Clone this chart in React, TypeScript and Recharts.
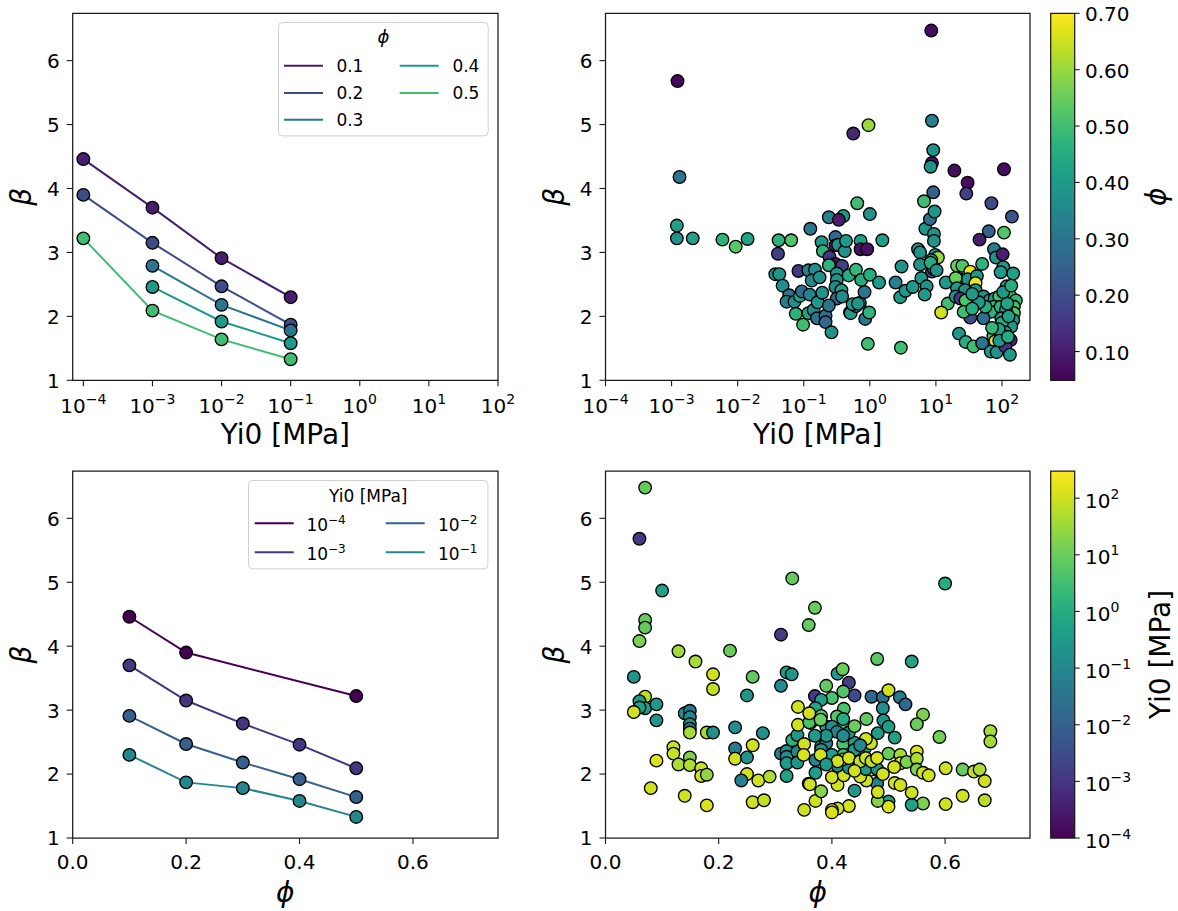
import React from 'react';
import { ComposedChart, Line, Scatter, XAxis, YAxis, ReferenceArea, Legend } from 'recharts';

const FONT = '"DejaVu Sans", "Liberation Sans", sans-serif';

// ---------------- data ----------------
const phiLevels = [0.1, 0.2, 0.3, 0.4, 0.5];
const yiLevels = [1e-4, 1e-3, 1e-2, 1e-1];
// beta[phi][Yi0]; null = not measured
const betaGrid: (number | null)[][] = [
  [4.46, 3.70, 2.91, 2.30],
  [3.90, 3.15, 2.47, 1.87],
  [null, 2.79, 2.18, 1.78],
  [null, 2.46, 1.92, 1.58],
  [3.22, 2.09, 1.64, 1.33],
];

const betaTicks = [1, 2, 3, 4, 5, 6];
const decadeTicksTL = [1e-4, 1e-3, 1e-2, 1e-1, 1e0, 1e1, 1e2];
const decadeTicksTR = [1e-4, 1e-3, 1e-2, 1e-1, 1e0, 1e1, 1e2];
const phiTicks = [0, 0.2, 0.4, 0.6];
const cbPhiTicks = [0.1, 0.2, 0.3, 0.4, 0.5, 0.6, 0.7];
const cbYiTicks = [1e-4, 1e-3, 1e-2, 1e-1, 1e0, 1e1, 1e2];

// top-right scatter: [log10 Yi0 (MPa), beta, phi]
const trRows: number[][] = [
  [-2.91, 5.68, 0.06], [-2.88, 4.18, 0.30], [-2.92, 3.42, 0.42], [-2.92, 3.22, 0.38],
  [-2.68, 3.22, 0.42], [-2.23, 3.20, 0.47], [-2.03, 3.09, 0.53], [-1.85, 3.21, 0.43],
  [-1.38, 3.19, 0.47], [-1.19, 3.19, 0.52], [-1.39, 2.98, 0.17], [-1.43, 2.66, 0.38],
  [-1.37, 2.66, 0.38], [-1.32, 2.48, 0.37], [-1.22, 2.33, 0.30], [-1.26, 2.23, 0.32],
  [-1.14, 2.23, 0.36], [-1.06, 2.32, 0.43], [-1.12, 2.04, 0.47], [-1.01, 1.87, 0.50],
  [-1.03, 2.39, 0.28], [-1.08, 2.71, 0.15], [-0.90, 3.37, 0.30], [-0.93, 2.05, 0.43],
  [-0.91, 2.34, 0.34], [-0.85, 2.10, 0.36], [-0.93, 2.72, 0.33], [-0.83, 2.73, 0.37],
  [-0.88, 2.56, 0.36], [-0.76, 2.61, 0.38], [-0.80, 1.97, 0.30], [-0.79, 2.22, 0.40],
  [-0.72, 2.37, 0.38], [-0.67, 2.01, 0.28], [-0.67, 1.91, 0.27], [-0.58, 1.75, 0.38],
  [-0.62, 3.55, 0.33], [-0.40, 3.57, 0.40], [-0.47, 3.51, 0.10], [-0.73, 3.16, 0.40],
  [-0.71, 3.02, 0.47], [-0.52, 3.24, 0.27], [-0.52, 3.11, 0.10], [-0.48, 3.12, 0.38],
  [-0.38, 3.02, 0.38], [-0.61, 2.93, 0.15], [-0.52, 2.82, 0.08], [-0.62, 2.80, 0.47],
  [-0.42, 2.79, 0.17], [-0.50, 2.67, 0.38], [-0.50, 2.57, 0.38], [-0.52, 2.46, 0.36],
  [-0.43, 2.41, 0.42], [-0.50, 2.28, 0.27], [-0.42, 2.31, 0.36], [-0.62, 2.17, 0.30],
  [-0.32, 2.64, 0.45], [-0.30, 2.06, 0.45], [-0.36, 3.18, 0.40], [-0.29, 2.05, 0.40],
  [-0.21, 2.16, 0.38], [-0.21, 2.73, 0.48], [-0.19, 3.77, 0.50], [-0.14, 3.18, 0.42],
  [-0.14, 3.05, 0.08], [-0.04, 3.05, 0.08], [-0.13, 2.57, 0.45], [-0.15, 2.21, 0.40],
  [-0.08, 2.38, 0.30], [-0.07, 1.96, 0.30], [-0.01, 2.06, 0.47], [0.00, 2.65, 0.45],
  [-0.02, 4.99, 0.60], [-0.25, 4.86, 0.12], [0.00, 3.60, 0.38], [-0.03, 1.57, 0.50],
  [0.19, 3.19, 0.42], [0.14, 2.53, 0.40], [-0.26, 2.19, 0.40], [-0.18, 2.20, 0.38],
  [0.39, 2.53, 0.33], [0.48, 2.78, 0.38], [0.46, 2.30, 0.40], [0.54, 2.40, 0.40],
  [0.47, 1.51, 0.50], [0.65, 2.46, 0.40], [0.73, 3.05, 0.38], [0.76, 3.00, 0.38],
  [0.76, 2.81, 0.38], [0.78, 2.60, 0.40], [0.82, 3.80, 0.50], [0.84, 3.37, 0.40],
  [0.86, 2.47, 0.38], [0.83, 2.34, 0.40], [0.91, 3.52, 0.28], [0.93, 6.47, 0.07],
  [0.94, 4.40, 0.08], [0.92, 4.34, 0.38], [0.94, 5.06, 0.33], [0.96, 4.60, 0.38],
  [0.96, 3.94, 0.25], [0.98, 3.64, 0.40], [0.97, 3.29, 0.38], [0.97, 3.18, 0.38],
  [0.99, 2.96, 0.38], [1.03, 2.92, 0.60], [0.93, 2.88, 0.40], [0.95, 2.78, 0.40],
  [0.94, 2.70, 0.20], [0.97, 2.74, 0.38], [0.92, 2.84, 0.45], [1.01, 2.72, 0.38],
  [1.15, 2.53, 0.40], [1.18, 2.20, 0.50], [1.08, 2.06, 0.65],
  [1.28, 4.28, 0.07], [1.48, 4.09, 0.07], [1.46, 3.92, 0.17], [2.03, 4.30, 0.07],
  [1.84, 3.77, 0.20], [2.15, 3.56, 0.22], [1.80, 3.33, 0.25], [2.03, 3.31, 0.52],
  [1.66, 3.20, 0.10], [1.88, 3.05, 0.32], [1.91, 2.92, 0.38], [2.01, 2.97, 0.10],
  [2.02, 2.77, 0.38], [1.98, 2.69, 0.40], [2.17, 2.67, 0.42], [1.70, 2.82, 0.47],
  [1.32, 2.79, 0.55], [1.40, 2.79, 0.52], [1.52, 2.70, 0.68], [1.36, 2.58, 0.40],
  [1.48, 2.58, 0.38], [1.62, 2.63, 0.40], [1.30, 2.60, 0.55], [1.60, 2.52, 0.68],
  [1.32, 2.44, 0.40], [1.44, 2.41, 0.38], [1.60, 2.41, 0.40], [1.30, 2.31, 0.38],
  [1.37, 2.28, 0.15], [1.45, 2.25, 0.52], [1.72, 2.31, 0.38], [1.81, 2.25, 0.40],
  [1.89, 2.28, 0.38], [1.96, 2.31, 0.50], [2.07, 2.47, 0.40], [2.13, 2.31, 0.50],
  [2.21, 2.25, 0.48], [2.18, 2.15, 0.50], [2.18, 2.05, 0.52], [2.17, 1.94, 0.40],
  [2.14, 1.84, 0.40], [2.13, 1.63, 0.12], [1.88, 2.15, 0.50], [1.93, 2.08, 0.48],
  [1.83, 2.07, 0.47], [1.98, 2.15, 0.47], [2.06, 2.10, 0.40], [1.99, 1.97, 0.40],
  [1.72, 1.97, 0.28], [1.52, 1.98, 0.20], [1.42, 2.07, 0.50], [1.35, 1.73, 0.40],
  [1.45, 1.60, 0.45], [1.57, 1.53, 0.50], [1.70, 1.58, 0.30], [1.87, 1.69, 0.50],
  [1.90, 1.61, 0.68], [1.97, 1.50, 0.50], [1.83, 1.45, 0.40], [1.92, 1.44, 0.38],
  [2.05, 1.53, 0.15], [2.12, 1.40, 0.40], [2.00, 1.90, 0.45], [2.10, 2.00, 0.42],
  [2.05, 1.75, 0.40], [1.95, 1.80, 0.42], [2.08, 2.20, 0.43], [1.75, 2.15, 0.45],
  [1.65, 2.22, 0.40], [1.55, 2.35, 0.40], [1.55, 2.12, 0.45], [2.02, 2.38, 0.40],
  [2.14, 2.48, 0.45], [1.96, 1.62, 0.40], [2.09, 1.68, 0.45], [1.85, 1.82, 0.48],
];

// bottom-right scatter: [phi, beta, log10 Yi0 (MPa)]
const brRows: number[][] = [
  [0.070, 6.48, 0.93], [0.060, 5.68, -2.92], [0.100, 4.87, -0.25], [0.070, 4.41, 0.95],
  [0.070, 4.29, 0.92], [0.060, 4.08, 1.2], [0.050, 3.52, -0.6], [0.070, 3.21, 1.8],
  [0.060, 3.14, -0.4], [0.070, 3.03, -0.4], [0.060, 3.04, -0.3], [0.050, 2.97, 2.0],
  [0.090, 3.09, -0.5], [0.090, 2.84, -0.6], [0.090, 2.21, 2.1], [0.080, 1.78, 2.0],
  [0.129, 3.92, 1.6], [0.159, 3.76, 1.6], [0.190, 3.56, 2.0], [0.190, 3.33, 1.9],
  [0.140, 2.95, -0.7], [0.149, 2.99, -1.4], [0.149, 2.89, -0.9], [0.149, 2.78, -0.8],
  [0.149, 2.71, -1.3], [0.149, 2.65, 1.6], [0.179, 2.65, 1.6], [0.190, 2.65, -0.8],
  [0.120, 2.42, 2.0], [0.120, 2.32, 1.9], [0.129, 2.15, 1.7], [0.149, 2.26, 1.2],
  [0.149, 2.14, 1.7], [0.169, 2.09, 1.9], [0.169, 1.97, 2.0], [0.179, 1.99, 1.4],
  [0.140, 1.66, 2.0], [0.179, 1.51, 2.1], [0.220, 3.93, 1.0], [0.260, 3.52, 0.9],
  [0.250, 3.23, -0.6], [0.229, 2.73, -0.8], [0.229, 2.40, -1.3], [0.229, 2.24, 2.0],
  [0.250, 2.26, -0.7], [0.260, 2.45, 2.0], [0.250, 2.00, 2.0], [0.240, 1.90, -1.2],
  [0.270, 1.90, 2.0], [0.290, 1.96, 1.7], [0.278, 2.64, -0.8], [0.260, 1.56, 2.0],
  [0.280, 1.59, 1.9], [0.310, 4.18, -2.87], [0.320, 3.59, -0.4], [0.329, 3.56, -0.6],
  [0.310, 3.38, -0.9], [0.330, 5.06, 0.94], [0.359, 4.33, 0.92], [0.310, 2.32, -1.2],
  [0.320, 2.36, -0.8], [0.320, 2.27, -0.8], [0.320, 2.17, -0.5], [0.320, 1.97, -0.3],
  [0.330, 2.53, 0.1], [0.339, 2.61, -0.5], [0.339, 2.35, -1.0], [0.339, 2.18, -0.6],
  [0.340, 3.05, 2.0], [0.340, 2.77, 2.0], [0.351, 2.47, 2.0], [0.351, 1.44, 2.0],
  [0.359, 1.85, 2.0], [0.350, 2.30, 2.1], [0.362, 2.80, 0.5],
  [0.370, 4.60, 0.96], [0.480, 3.80, 0.82], [0.541, 3.76, -0.2], [0.410, 3.57, -0.45],
  [0.419, 3.64, 0.98], [0.430, 3.43, -2.8], [0.390, 3.38, 0.9], [0.370, 3.22, -2.9],
  [0.440, 3.23, -2.6], [0.400, 3.19, 0.6], [0.420, 3.29, 0.7], [0.381, 3.16, -0.3],
  [0.470, 3.21, -1.8], [0.490, 3.20, -1.6], [0.520, 3.20, -1.3], [0.530, 3.09, -1.8],
  [0.500, 3.31, 2.0], [0.490, 3.03, -0.8], [0.371, 3.03, -0.2], [0.421, 3.02, 0.6],
  [0.561, 2.93, 1.2], [0.550, 2.78, 1.0], [0.461, 2.86, 0.9], [0.491, 2.84, -0.6],
  [0.500, 2.74, -0.4], [0.511, 2.57, -0.3], [0.590, 2.58, 1.1], [0.680, 2.67, 1.6],
  [0.680, 2.51, 1.6], [0.481, 2.64, -0.4], [0.381, 2.91, 0.8], [0.360, 2.81, 0.6],
  [0.420, 2.77, 0.7], [0.409, 2.90, 0.8], [0.420, 2.86, 0.0], [0.390, 2.74, -0.5],
  [0.400, 2.74, -0.9], [0.381, 2.56, -0.4], [0.381, 2.43, -0.5], [0.390, 2.48, -1.0],
  [0.409, 2.66, -1.1], [0.420, 2.47, 0.6], [0.420, 2.30, 0.5], [0.440, 2.49, -0.3],
  [0.458, 2.40, -0.2], [0.469, 2.48, 2.0], [0.481, 2.06, -0.3], [0.480, 1.85, -1.2],
  [0.500, 2.32, 1.0], [0.521, 2.30, 1.6], [0.521, 2.17, 2.0], [0.510, 2.11, 2.0],
  [0.532, 2.19, 1.2], [0.550, 2.35, 2.1], [0.550, 2.24, 1.7], [0.550, 2.07, 1.2],
  [0.561, 2.02, 2.0], [0.571, 1.98, 2.0], [0.601, 2.09, 2.0], [0.631, 2.07, 1.0],
  [0.651, 2.04, 1.9], [0.661, 2.07, 1.7], [0.670, 1.89, 2.0], [0.631, 1.66, 2.0],
  [0.670, 1.59, 1.8], [0.601, 1.53, 2.0], [0.561, 1.54, 1.2], [0.541, 1.52, -0.3],
  [0.500, 1.57, -0.3], [0.500, 1.49, 2.1], [0.481, 1.58, 1.3], [0.481, 1.72, 2.0],
  [0.541, 1.71, 2.0], [0.511, 1.86, 2.0], [0.521, 1.83, 2.0], [0.440, 1.74, -0.6],
  [0.461, 1.90, 2.0], [0.450, 1.96, 2.0], [0.470, 2.07, 2.0], [0.430, 1.50, 2.0],
  [0.410, 1.46, 2.0], [0.400, 1.44, 2.0], [0.400, 1.40, 2.1], [0.371, 1.58, 2.0],
  [0.381, 1.73, 1.3], [0.361, 1.84, 2.0], [0.410, 1.83, 2.0], [0.400, 1.95, 2.0],
  [0.421, 1.98, 2.0], [0.371, 2.02, -0.4], [0.371, 2.22, -1.2], [0.381, 2.38, -0.7],
  [0.410, 2.13, -1.0], [0.430, 2.10, -0.8], [0.420, 2.23, 1.3], [0.440, 2.38, -0.5],
  [0.460, 2.08, -0.5], [0.480, 2.08, -0.6], [0.600, 4.98, -0.02],
  [0.390, 2.60, -0.6], [0.400, 2.30, -0.4], [0.410, 2.20, 2.0], [0.380, 2.30, 2.0],
  [0.390, 2.15, -0.5], [0.430, 2.25, 2.0], [0.450, 2.20, 1.9], [0.440, 2.05, 2.0],
  [0.460, 2.25, 2.0], [0.430, 2.65, -0.7], [0.440, 2.75, 1.0], [0.460, 2.55, 2.0],
  [0.470, 2.20, 1.8], [0.480, 2.25, 2.1], [0.490, 2.00, 2.0], [0.370, 2.60, -0.5],
  [0.380, 2.85, 1.0], [0.360, 2.95, 2.0], [0.420, 2.60, -0.9], [0.450, 2.45, -1.0],
];

// ---------------- colour map ----------------
const VIR = ['#440154', '#471365', '#482475', '#463480', '#414487', '#3b528b', '#355f8d',
  '#2f6c8e', '#2a788e', '#25848e', '#21918c', '#1e9c89', '#22a884', '#2fb47c', '#44bf70',
  '#5ec962', '#7ad151', '#9bd93c', '#bddf26', '#dfe318', '#fde725'];
const rgb = (h: string) => [1, 3, 5].map((i) => parseInt(h.slice(i, i + 2), 16));
function viridis(t: number) {
  const c = Math.max(0, Math.min(1, t)) * 20;
  const i = Math.min(19, Math.floor(c));
  const f = c - i;
  const a = rgb(VIR[i]);
  const b = rgb(VIR[i + 1]);
  const m = a.map((v, k) => Math.round(v + (b[k] - v) * f));
  return `rgb(${m[0]},${m[1]},${m[2]})`;
}
const PHI_MIN = 0.049;
const PHI_MAX = 0.70;
const LY_MIN = -4;
const LY_MAX = 2.48;
const phiColor = (p: number) => viridis((p - PHI_MIN) / (PHI_MAX - PHI_MIN));
const yiColor = (ly: number) => viridis((ly - LY_MIN) / (LY_MAX - LY_MIN));

const phiSeries = phiLevels.map((phi, i) => ({
  phi,
  color: phiColor(phi),
  data: yiLevels.map((yi, j) => ({ x: yi, y: betaGrid[i][j] })).filter((d) => d.y !== null),
}));
const yiSeries = yiLevels.map((yi, j) => ({
  yi,
  color: yiColor(Math.log10(yi)),
  data: phiLevels.map((phi, i) => ({ x: phi, y: betaGrid[i][j] })).filter((d) => d.y !== null),
}));
const trData = trRows.map(([ly, b, p]) => ({ x: Math.pow(10, ly), y: b, color: phiColor(p) }));
const brData = brRows.map(([p, b, ly]) => ({ x: p, y: b, color: yiColor(ly) }));

// ---------------- layout ----------------
type Geo = { left: number; top: number; width: number; height: number; m: { top: number; right: number; bottom: number; left: number }; yw: number; xh: number };
const plotRect = (g: Geo) => ({
  x: g.m.left + g.yw,
  y: g.m.top,
  w: g.width - g.m.left - g.m.right - g.yw,
  h: g.height - g.m.top - g.m.bottom - g.xh,
});
const gTL: Geo = { left: 0, top: 0, width: 540, height: 460, m: { top: 13.3, right: 42, bottom: 0, left: 0 }, yw: 72.7, xh: 79.7 };
const gTR: Geo = { left: 520, top: 0, width: 540, height: 460, m: { top: 13.3, right: 30, bottom: 0, left: 0 }, yw: 85.5, xh: 79.7 };
const gBL: Geo = { left: 0, top: 460, width: 540, height: 451, m: { top: 11, right: 42, bottom: 0, left: 0 }, yw: 72.7, xh: 73 };
const gBR: Geo = { left: 520, top: 460, width: 540, height: 451, m: { top: 11, right: 30, bottom: 0, left: 0 }, yw: 85.5, xh: 73 };
const gCB1: Geo = { left: 1040, top: 0, width: 138, height: 460, m: { top: 13.3, right: 0, bottom: 79.7, left: 10.7 }, yw: 103.3, xh: 0 };
const gCB2: Geo = { left: 1040, top: 460, width: 138, height: 451, m: { top: 11, right: 0, bottom: 73, left: 10.7 }, yw: 103.3, xh: 0 };

const TICK_FS = 20;
const LABEL_FS = 28;
const DOT_R = 6.3;
const DOT_SW = 1.35;

const expStr = (v: number) => {
  const e = Math.round(Math.log10(v));
  return e < 0 ? '\u2212' + String(-e) : String(e);
};

const LogXTick = (props: any) => {
  const { x, y, payload } = props;
  return (
    <text x={x} y={y + 24.4} textAnchor="middle" fontSize={TICK_FS} fontFamily={FONT} fill="#000">
      <tspan>10</tspan>
      <tspan dy={-9} fontSize={14}>{expStr(payload.value)}</tspan>
    </text>
  );
};
const LinXTick = (props: any) => {
  const { x, y, payload } = props;
  return (
    <text x={x} y={y + 23.3} textAnchor="middle" fontSize={TICK_FS} fontFamily={FONT} fill="#000">
      {Number(payload.value).toFixed(1)}
    </text>
  );
};
const YTick = (props: any) => {
  const { x, y, payload } = props;
  return (
    <text x={x - 5} y={y + 7.4} textAnchor="end" fontSize={TICK_FS} fontFamily={FONT} fill="#000">
      {String(payload.value)}
    </text>
  );
};
const CbLinTick = (props: any) => {
  const { x, y, payload } = props;
  return (
    <text x={x + 3.3} y={y + 8} textAnchor="start" fontSize={TICK_FS} fontFamily={FONT} fill="#000">
      {Number(payload.value).toFixed(2)}
    </text>
  );
};
const CbLogTick = (props: any) => {
  const { x, y, payload } = props;
  return (
    <text x={x + 3.3} y={y + 9.5} textAnchor="start" fontSize={TICK_FS} fontFamily={FONT} fill="#000">
      <tspan>10</tspan>
      <tspan dy={-9} fontSize={14}>{expStr(payload.value)}</tspan>
    </text>
  );
};

const XTitle = (props: any) => {
  const { geo, text, italic } = props;
  const r = plotRect(geo);
  return (
    <text x={r.x + r.w / 2} y={r.y + r.h + 64} textAnchor="middle" fontSize={LABEL_FS}
      fontStyle={italic ? 'italic' : 'normal'} fontFamily={FONT} fill="#000">{text}</text>
  );
};
const YTitle = (props: any) => {
  const { geo, text, italic } = props;
  const r = plotRect(geo);
  const cx = r.x - 41.3;
  const cy = r.y + r.h / 2;
  return (
    <text x={cx} y={cy} transform={`rotate(-90, ${cx}, ${cy})`} textAnchor="middle" fontSize={LABEL_FS}
      fontStyle={italic ? 'italic' : 'normal'} fontFamily={FONT} fill="#000">{text}</text>
  );
};
const CbTitle = (props: any) => {
  const { geo, text, italic, bx } = props;
  const r = plotRect(geo);
  const cy = r.y + r.h / 2;
  return (
    <text x={bx} y={cy} transform={`rotate(-90, ${bx}, ${cy})`} textAnchor="middle" fontSize={LABEL_FS}
      fontStyle={italic ? 'italic' : 'normal'} fontFamily={FONT} fill="#000">{text}</text>
  );
};

const ScatterDot = (p: any) => (
  <circle cx={p.cx} cy={p.cy} r={DOT_R} fill={p.payload.color} stroke="#000" strokeWidth={DOT_SW} />
);

// ---------------- legends ----------------
const PhiLegend = () => {
  const w = 210.7;
  const h = 114.4;
  const rows = [43.7, 71, 97.7];
  const cols = [{ hx: 6, tx: 58.4 }, { hx: 121.7, tx: 174.4 }];
  return (
    <svg width={w} height={h} style={{ display: 'block', overflow: 'visible' }}>
      <rect x={0.5} y={0.5} width={w - 1} height={h - 1} rx={4} fill="#fff" fillOpacity={0.8} stroke="#d0d0d0" />
      <text x={w / 2} y={20.7} textAnchor="middle" fontSize={18} fontStyle="italic" fontFamily={FONT}>ϕ</text>
      {phiSeries.map((s, k) => {
        const c = cols[Math.floor(k / 3)];
        const yy = rows[k % 3];
        return (
          <g key={k}>
            <line x1={c.hx} x2={c.hx + 39} y1={yy} y2={yy} stroke={s.color} strokeWidth={2} />
            <text x={c.tx} y={yy + 6.2} fontSize={17} fontFamily={FONT} fill="#000">{s.phi.toFixed(1)}</text>
          </g>
        );
      })}
    </svg>
  );
};
const YiLegend = () => {
  const w = 240.4;
  const h = 89.3;
  const rows = [43.3, 72.3];
  const cols = [{ hx: 6.7, tx: 58.4 }, { hx: 137.7, tx: 190 }];
  return (
    <svg width={w} height={h} style={{ display: 'block', overflow: 'visible' }}>
      <rect x={0.5} y={0.5} width={w - 1} height={h - 1} rx={4} fill="#fff" fillOpacity={0.8} stroke="#d0d0d0" />
      <text x={w / 2} y={21.7} textAnchor="middle" fontSize={17} fontFamily={FONT}>Yi0 [MPa]</text>
      {yiSeries.map((s, k) => {
        const c = cols[Math.floor(k / 2)];
        const yy = rows[k % 2];
        return (
          <g key={k}>
            <line x1={c.hx} x2={c.hx + 39} y1={yy} y2={yy} stroke={s.color} strokeWidth={2} />
            <text x={c.tx} y={yy + 7.4} fontSize={17} fontFamily={FONT} fill="#000">
              <tspan>10</tspan>
              <tspan dy={-7} fontSize={12}>{expStr(s.yi)}</tspan>
            </text>
          </g>
        );
      })}
    </svg>
  );
};

const boxStyle = { stroke: '#1a1a1a', strokeWidth: 1.25 };
const tickLine = { stroke: '#1a1a1a', strokeWidth: 1.1 };

const wrap = (g: Geo): React.CSSProperties => ({ position: 'absolute', left: g.left, top: g.top, width: g.width, height: g.height });

const TL_X: [number, number] = [Math.pow(10, -4.154), 100];
const TR_X: [number, number] = [1e-4, Math.pow(10, 2.424)];
const Y_DOM: [number, number] = [1, 6.74];
const PHI_DOM: [number, number] = [0, 0.75];

export default function App() {
  const gradStops = VIR.map((c, i) => <stop key={i} offset={`${(i / 20) * 100}%`} stopColor={c} />);
  return (
    <div style={{ position: 'absolute', left: 0, top: 0, width: 1178, height: 911, background: '#fff', fontFamily: FONT }}>
      {/* top-left */}
      <div style={wrap(gTL)}>
        <ComposedChart width={gTL.width} height={gTL.height} margin={gTL.m}>
          <XAxis type="number" dataKey="x" scale="log" domain={TL_X} allowDataOverflow ticks={decadeTicksTL}
            interval={0} tickSize={6} tickLine={tickLine} axisLine={false} height={gTL.xh} tick={<LogXTick />}
            label={<XTitle geo={gTL} text="Yi0 [MPa]" />} />
          <YAxis type="number" dataKey="y" domain={Y_DOM} allowDataOverflow ticks={betaTicks} interval={0}
            tickSize={6} tickLine={tickLine} axisLine={false} width={gTL.yw} tick={<YTick />}
            label={<YTitle geo={gTL} text="β" italic />} />
          <ReferenceArea x1={TL_X[0]} x2={TL_X[1]} y1={Y_DOM[0]} y2={Y_DOM[1]} fill="none" fillOpacity={0} {...boxStyle} />
          {phiSeries.map((s) => (
            <Line key={s.phi} data={s.data} dataKey="y" stroke={s.color} strokeWidth={2}
              dot={{ r: DOT_R, fill: s.color, stroke: '#000', strokeWidth: DOT_SW }} activeDot={false}
              isAnimationActive={false} />
          ))}
          <Legend layout="horizontal" verticalAlign="middle" align="center" content={() => <PhiLegend />}
            wrapperStyle={{ position: 'absolute', left: 278.3, top: 22.3, width: 210.7, height: 114.4 }} />
        </ComposedChart>
      </div>

      {/* top-right */}
      <div style={wrap(gTR)}>
        <ComposedChart width={gTR.width} height={gTR.height} margin={gTR.m}>
          <XAxis type="number" dataKey="x" scale="log" domain={TR_X} allowDataOverflow ticks={decadeTicksTR}
            interval={0} tickSize={6} tickLine={tickLine} axisLine={false} height={gTR.xh} tick={<LogXTick />}
            label={<XTitle geo={gTR} text="Yi0 [MPa]" />} />
          <YAxis type="number" dataKey="y" domain={Y_DOM} allowDataOverflow ticks={betaTicks} interval={0}
            tickSize={6} tickLine={tickLine} axisLine={false} width={gTR.yw} tick={<YTick />}
            label={<YTitle geo={gTR} text="β" italic />} />
          <ReferenceArea x1={TR_X[0]} x2={TR_X[1]} y1={Y_DOM[0]} y2={Y_DOM[1]} fill="none" fillOpacity={0} {...boxStyle} />
          <Scatter data={trData} dataKey="y" shape={ScatterDot} isAnimationActive={false} />
        </ComposedChart>
      </div>

      {/* top colorbar */}
      <div style={wrap(gCB1)}>
        <ComposedChart width={gCB1.width} height={gCB1.height} margin={gCB1.m}
          data={cbPhiTicks.map((v) => ({ x: 0.5, y: v }))}>
          <defs>
            <linearGradient id="cbPhi" x1="0" y1="1" x2="0" y2="0">{gradStops}</linearGradient>
          </defs>
          <XAxis type="number" dataKey="x" domain={[0, 1]} hide />
          <YAxis type="number" dataKey="y" orientation="right" domain={[PHI_MIN, PHI_MAX]} allowDataOverflow
            ticks={cbPhiTicks} interval={0} tickSize={5} tickLine={tickLine} axisLine={false} width={gCB1.yw}
            tick={<CbLinTick />} label={<CbTitle geo={gCB1} text="ϕ" italic bx={126} />} />
          <ReferenceArea x1={0} x2={1} y1={PHI_MIN} y2={PHI_MAX} fill="url(#cbPhi)" fillOpacity={1} {...boxStyle} />
        </ComposedChart>
      </div>

      {/* bottom-left */}
      <div style={wrap(gBL)}>
        <ComposedChart width={gBL.width} height={gBL.height} margin={gBL.m}>
          <XAxis type="number" dataKey="x" domain={PHI_DOM} allowDataOverflow ticks={phiTicks}
            interval={0} tickSize={6} tickLine={tickLine} axisLine={false} height={gBL.xh} tick={<LinXTick />}
            label={<XTitle geo={gBL} text="ϕ" italic />} />
          <YAxis type="number" dataKey="y" domain={Y_DOM} allowDataOverflow ticks={betaTicks} interval={0}
            tickSize={6} tickLine={tickLine} axisLine={false} width={gBL.yw} tick={<YTick />}
            label={<YTitle geo={gBL} text="β" italic />} />
          <ReferenceArea x1={PHI_DOM[0]} x2={PHI_DOM[1]} y1={Y_DOM[0]} y2={Y_DOM[1]} fill="none" fillOpacity={0} {...boxStyle} />
          {yiSeries.map((s) => (
            <Line key={s.yi} data={s.data} dataKey="y" stroke={s.color} strokeWidth={2}
              dot={{ r: DOT_R, fill: s.color, stroke: '#000', strokeWidth: DOT_SW }} activeDot={false}
              isAnimationActive={false} />
          ))}
          <Legend layout="horizontal" verticalAlign="middle" align="center" content={() => <YiLegend />}
            wrapperStyle={{ position: 'absolute', left: 248.3, top: 20, width: 240.4, height: 89.3 }} />
        </ComposedChart>
      </div>

      {/* bottom-right */}
      <div style={wrap(gBR)}>
        <ComposedChart width={gBR.width} height={gBR.height} margin={gBR.m}>
          <XAxis type="number" dataKey="x" domain={PHI_DOM} allowDataOverflow ticks={phiTicks}
            interval={0} tickSize={6} tickLine={tickLine} axisLine={false} height={gBR.xh} tick={<LinXTick />}
            label={<XTitle geo={gBR} text="ϕ" italic />} />
          <YAxis type="number" dataKey="y" domain={Y_DOM} allowDataOverflow ticks={betaTicks} interval={0}
            tickSize={6} tickLine={tickLine} axisLine={false} width={gBR.yw} tick={<YTick />}
            label={<YTitle geo={gBR} text="β" italic />} />
          <ReferenceArea x1={PHI_DOM[0]} x2={PHI_DOM[1]} y1={Y_DOM[0]} y2={Y_DOM[1]} fill="none" fillOpacity={0} {...boxStyle} />
          <Scatter data={brData} dataKey="y" shape={ScatterDot} isAnimationActive={false} />
        </ComposedChart>
      </div>

      {/* bottom colorbar */}
      <div style={wrap(gCB2)}>
        <ComposedChart width={gCB2.width} height={gCB2.height} margin={gCB2.m}
          data={cbYiTicks.map((v) => ({ x: 0.5, y: v }))}>
          <defs>
            <linearGradient id="cbYi" x1="0" y1="1" x2="0" y2="0">{gradStops}</linearGradient>
          </defs>
          <XAxis type="number" dataKey="x" domain={[0, 1]} hide />
          <YAxis type="number" dataKey="y" orientation="right" scale="log" domain={[1e-4, Math.pow(10, LY_MAX)]}
            allowDataOverflow ticks={cbYiTicks} interval={0} tickSize={5} tickLine={tickLine} axisLine={false}
            width={gCB2.yw} tick={<CbLogTick />} label={<CbTitle geo={gCB2} text="Yi0 [MPa]" bx={129.7} />} />
          <ReferenceArea x1={0} x2={1} y1={1e-4} y2={Math.pow(10, LY_MAX)} fill="url(#cbYi)" fillOpacity={1} {...boxStyle} />
        </ComposedChart>
      </div>
    </div>
  );
}
